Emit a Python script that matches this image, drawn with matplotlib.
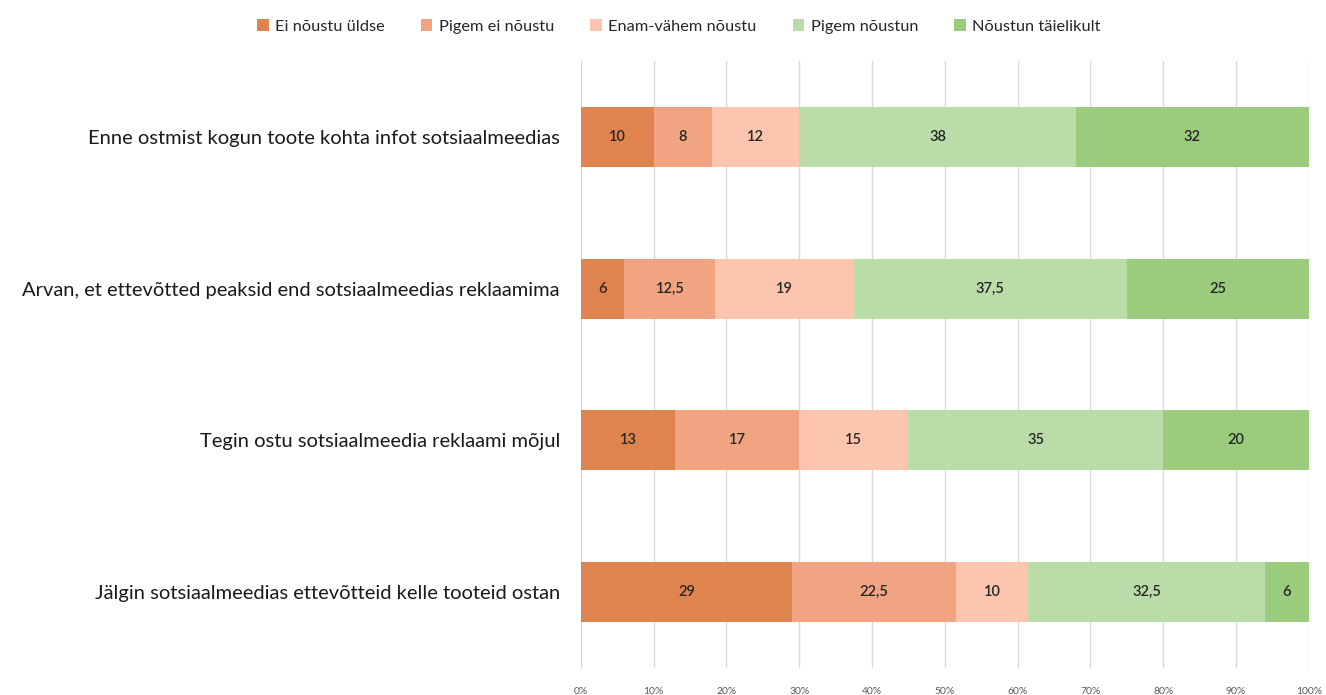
import matplotlib
matplotlib.use("Agg")
import matplotlib.pyplot as plt
import numpy as np

plt.rcParams['font.family'] = ['Lato', 'DejaVu Sans']

questions = [
    "Enne ostmist kogun toote kohta infot sotsiaalmeedias",
    "Arvan, et ettevõtted peaksid end sotsiaalmeedias reklaamima",
    "Tegin ostu sotsiaalmeedia reklaami mõjul",
    "Jälgin sotsiaalmeedias ettevõtteid kelle tooteid ostan",
]
answers = ["Ei nõustu üldse", "Pigem ei nõustu", "Enam-vähem nõustu",
           "Pigem nõustun", "Nõustun täielikult"]
ei_noustu = [10, 6, 13, 29]
pigem_ei = [8, 12.5, 17, 22.5]
enam_vahem = [12, 19, 15, 10]
pigem_jah = [38, 37.5, 35, 32.5]
taielikult = [32, 25, 20, 6]
series = [ei_noustu, pigem_ei, enam_vahem, pigem_jah, taielikult]
colors = ["#E0844F", "#F0A482", "#FDC4AF", "#B9DCA8", "#9BCB7D"]

fig = plt.figure(figsize=(13.26, 6.95), dpi=100)
ax = fig.add_axes([0.438, 0.039, 0.549, 0.873])

y = np.arange(len(questions))
left = np.zeros(len(questions))
for vals, col, name in zip(series, colors, answers):
    vals = np.array(vals, dtype=float)
    bars = ax.barh(y, vals, left=left, height=0.395, color=col, label=name, zorder=3)
    for b, v in zip(bars, vals):
        txt = f"{v:g}".replace(".", ",")
        ax.text(b.get_x() + b.get_width() / 2, b.get_y() + b.get_height() / 2, txt,
                ha="center", va="center", fontsize=10.5, fontweight="semibold",
                color="#262626", zorder=4)
    left += vals

ax.set_xlim(0, 100)
ax.set_ylim(len(questions) - 0.5, -0.5)
ax.set_xticks(np.arange(0, 101, 10))
ax.set_xticklabels([f"{t}%" for t in range(0, 101, 10)], fontsize=7.5, color="#595959")
ax.set_yticks(y)
ax.set_yticklabels(questions, fontsize=14.5, color="#1a1a1a")
ax.tick_params(axis="both", length=0)
ax.tick_params(axis="x", pad=14)
ax.tick_params(axis="y", pad=15)
ax.xaxis.grid(True, color="#D9D9D9", linewidth=1, zorder=0)
for s in ax.spines.values():
    s.set_visible(False)

fig.legend(loc="center", bbox_to_anchor=(0.512, 0.962), ncol=5, frameon=False,
           fontsize=11.8, handlelength=0.7, handleheight=0.7, columnspacing=2.2,
           handletextpad=0.4, labelcolor="#262626")

fig.savefig("out.png", dpi=100)
